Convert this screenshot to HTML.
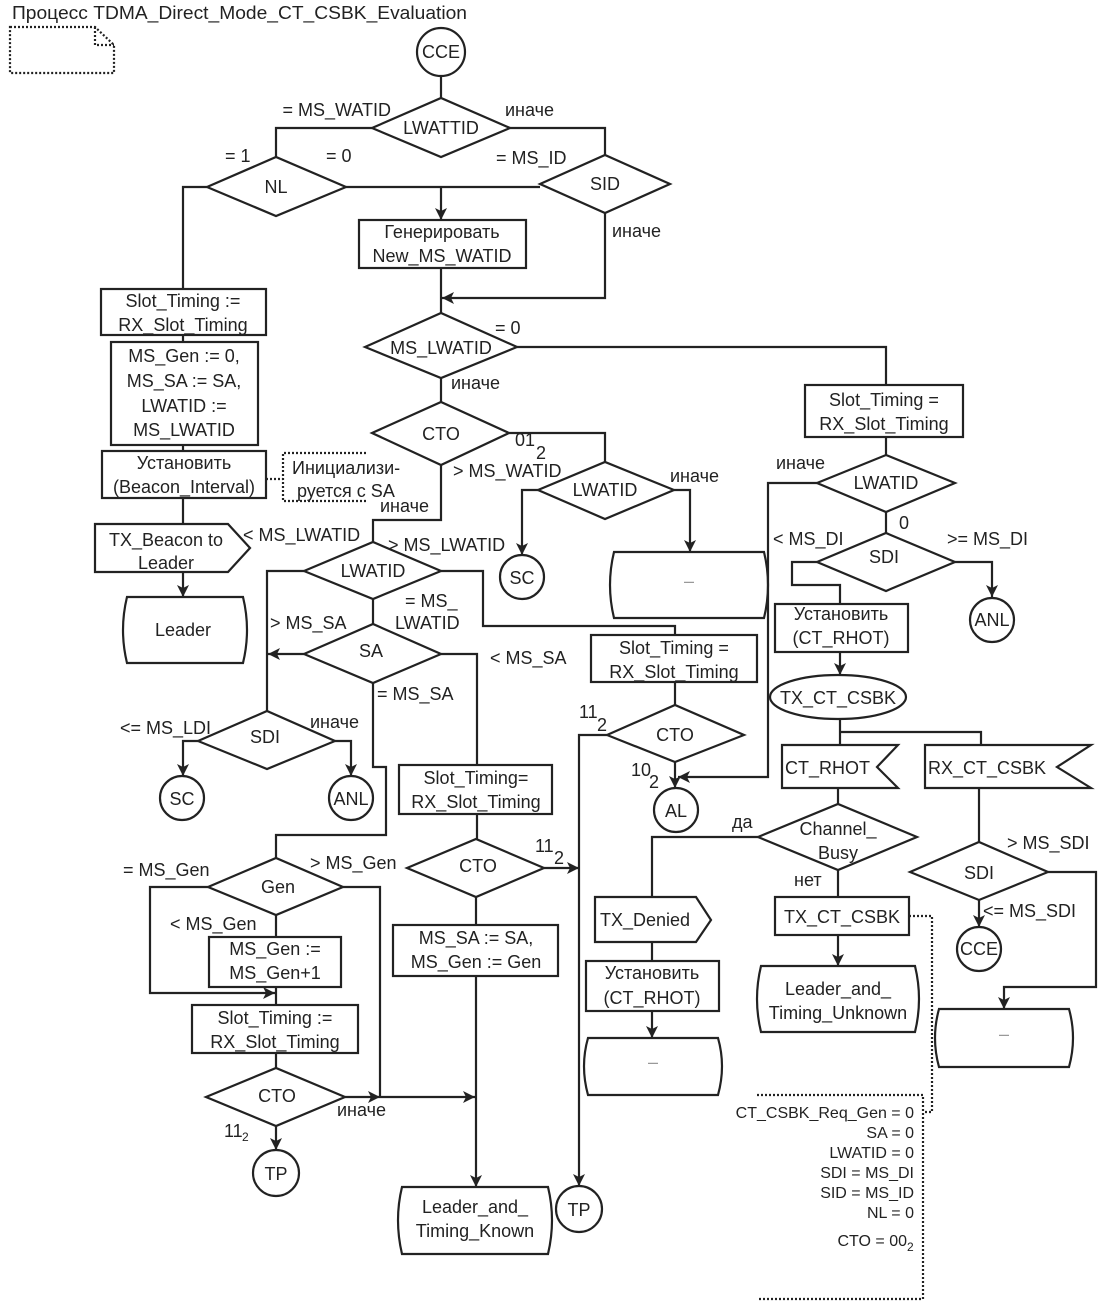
<!DOCTYPE html>
<html><head><meta charset="utf-8"><style>
html,body{margin:0;padding:0;background:#fff;}
svg{display:block;}
text{font-family:"Liberation Sans","DejaVu Sans",sans-serif;font-size:18px;fill:#222;}
.c{text-anchor:middle;}
.e{text-anchor:end;}
.s{font-size:16px;}
.sub{font-size:12px;}
</style></head><body>
<svg width="1102" height="1308" viewBox="0 0 1102 1308" xmlns="http://www.w3.org/2000/svg">
<defs><marker id="a" viewBox="0 0 12 12" refX="12" refY="6" markerWidth="12" markerHeight="12" markerUnits="userSpaceOnUse" orient="auto"><path d="M0,0 L12,6 L0,12 L3,6 z" fill="#222"/></marker></defs>
<g fill="none" stroke="#222" stroke-width="2.2">
<path d="M10,27 H95 L114,45 V73 H10 Z M95,27 V45 H114" stroke-dasharray="2,2"/>
<circle cx="441" cy="52" r="24"/>
<line x1="441" y1="76" x2="441" y2="98"/>
<polygon points="372,128 441,98 510,128 441,157"/>
<path d="M372,128 H276 V157"/>
<polygon points="207,187 276,157 346,187 276,216"/>
<path d="M510,128 H605 V155"/>
<polygon points="540,184 605,155 670,184 605,213"/>
<path d="M346,187 H540"/>
<path d="M441,187 V220" marker-end="url(#a)"/>
<rect x="359" y="220" width="167" height="48"/>
<line x1="441" y1="268" x2="441" y2="313"/>
<path d="M605,213 V298 H442" marker-end="url(#a)"/>
<polygon points="365,347 441,313 517,347 441,378"/>
<path d="M517,347 H886 V385"/>
<rect x="805" y="385" width="158" height="52"/>
<line x1="886" y1="437" x2="886" y2="455"/>
<polygon points="817,483 886,455 955,483 886,512"/>
<path d="M817,483 H768 V777 H678" marker-end="url(#a)"/>
<line x1="886" y1="512" x2="886" y2="533"/>
<polygon points="817,562 886,533 955,562 886,591"/>
<path d="M955,562 H992 V597" marker-end="url(#a)"/>
<circle cx="992" cy="620" r="22"/>
<path d="M817,562 H792 V585 H840 V604"/>
<rect x="775" y="604" width="133" height="48"/>
<path d="M840,652 V675" marker-end="url(#a)"/>
<ellipse cx="838" cy="697" rx="68" ry="22"/>
<path d="M840,719 V745 M840,732 H981 V745"/>
<polygon points="782,745 898,745 877,767 898,788 782,788"/>
<polygon points="925,745 1091,745 1057,767 1091,788 925,788"/>
<line x1="838" y1="788" x2="838" y2="804"/>
<polygon points="758,837 838,804 917,837 838,870"/>
<path d="M758,837 H652 V897"/>
<polygon points="595,897 696,897 711,920 696,942 595,942"/>
<line x1="652" y1="942" x2="652" y2="961"/>
<rect x="586" y="961" width="133" height="50"/>
<path d="M652,1011 V1038" marker-end="url(#a)"/>
<path d="M588,1038 H718 Q726,1066 718,1095 H588 Q580,1066 588,1038 Z"/>
<line x1="838" y1="870" x2="838" y2="897"/>
<rect x="775" y="897" width="134" height="38"/>
<path d="M838,935 V966" marker-end="url(#a)"/>
<path d="M761,966 H915 Q923,999 915,1032 H761 Q753,999 761,966 Z"/>
<path d="M909,916 H932 V1112 H923 M757,1095 H923 V1299 H757" stroke-dasharray="2,2"/>
<line x1="979" y1="788" x2="979" y2="842"/>
<polygon points="910,872 979,842 1048,872 979,900"/>
<path d="M979,900 V927" marker-end="url(#a)"/>
<circle cx="979" cy="949" r="22"/>
<path d="M1048,872 H1096 V987 H1004 V1009" marker-end="url(#a)"/>
<path d="M939,1009 H1069 Q1077,1038 1069,1067 H939 Q931,1038 939,1009 Z"/>
<line x1="441" y1="378" x2="441" y2="402"/>
<polygon points="372,433 441,402 509,433 441,465"/>
<path d="M509,433 H605 V462"/>
<polygon points="538,490 605,462 674,490 605,519"/>
<path d="M674,490 H690 V552" marker-end="url(#a)"/>
<path d="M614,552 H764 Q772,585 764,618 H614 Q606,585 614,552 Z"/>
<path d="M538,490 H522 V555" marker-end="url(#a)"/>
<circle cx="522" cy="577" r="22"/>
<path d="M441,465 V520 H373 V542"/>
<polygon points="304,571 373,542 441,571 373,599"/>
<path d="M441,571 H483 V626 H675 V635"/>
<rect x="591" y="635" width="166" height="47"/>
<line x1="675" y1="682" x2="675" y2="705"/>
<polygon points="607,735 675,705 744,735 675,762"/>
<path d="M675,762 V788" marker-end="url(#a)"/>
<circle cx="676" cy="810" r="22"/>
<path d="M607,735 H579 V1186" marker-end="url(#a)"/>
<circle cx="579" cy="1209" r="23"/>
<path d="M304,571 H267 V711"/>
<line x1="373" y1="599" x2="373" y2="624"/>
<polygon points="304,654 373,624 441,654 373,683"/>
<path d="M304,654 H268" marker-end="url(#a)"/>
<path d="M441,654 H477 V765"/>
<rect x="399" y="765" width="153" height="49"/>
<line x1="477" y1="814" x2="477" y2="839"/>
<polygon points="407,868 476,839 544,868 476,897"/>
<path d="M544,868 H579" marker-end="url(#a)"/>
<line x1="476" y1="897" x2="476" y2="925"/>
<rect x="393" y="925" width="165" height="51"/>
<path d="M476,976 V1187" marker-end="url(#a)"/>
<path d="M402,1187 H548 Q556,1220 548,1254 H402 Q394,1220 402,1187 Z"/>
<path d="M373,683 V767 H386 V835 H276 V858"/>
<polygon points="198,741 267,711 335,741 267,769"/>
<path d="M198,741 H183 V776" marker-end="url(#a)"/>
<circle cx="182" cy="798" r="22"/>
<path d="M335,741 H351 V776" marker-end="url(#a)"/>
<circle cx="351" cy="798" r="22"/>
<polygon points="208,887 276,858 343,887 276,915"/>
<path d="M343,887 H380 V1097"/>
<path d="M208,887 H150 V993 H275" marker-end="url(#a)"/>
<line x1="276" y1="915" x2="276" y2="937"/>
<rect x="209" y="937" width="132" height="50"/>
<line x1="276" y1="987" x2="276" y2="1005"/>
<rect x="192" y="1005" width="166" height="48"/>
<line x1="276" y1="1053" x2="276" y2="1068"/>
<polygon points="206,1097 276,1068 345,1097 276,1126"/>
<path d="M345,1097 H380" marker-end="url(#a)"/>
<path d="M380,1097 H475" marker-end="url(#a)"/>
<path d="M276,1126 V1150" marker-end="url(#a)"/>
<circle cx="276" cy="1173" r="23"/>
<path d="M207,187 H183 V289"/>
<rect x="101" y="289" width="165" height="46"/>
<line x1="183" y1="335" x2="183" y2="342"/>
<rect x="111" y="342" width="147" height="103"/>
<line x1="183" y1="445" x2="183" y2="451"/>
<rect x="102" y="451" width="164" height="47"/>
<path d="M266,479 H283 M366,453 H283 V501 H366" stroke-dasharray="2,2"/>
<line x1="183" y1="498" x2="183" y2="524"/>
<polygon points="95,524 228,524 250,548 228,572 95,572"/>
<path d="M183,572 V597" marker-end="url(#a)"/>
<path d="M127,597 H243 Q251,630 243,663 H127 Q119,630 127,597 Z"/>
</g>
<text x="12" y="19" textLength="455" lengthAdjust="spacingAndGlyphs">Процесс TDMA_Direct_Mode_CT_CSBK_Evaluation</text>
<text class="c" x="441" y="58">CCE</text>
<text class="c" x="441" y="134">LWATTID</text>
<text class="e" x="391" y="116">= MS_WATID</text>
<text x="505" y="116">иначе</text>
<text class="c" x="276" y="193">NL</text>
<text x="225" y="162">= 1</text>
<text x="326" y="162">= 0</text>
<text class="c" x="605" y="190">SID</text>
<text x="496" y="164">= MS_ID</text>
<text x="612" y="237">иначе</text>
<text class="c" x="442" y="238">Генерировать</text>
<text class="c" x="442" y="262">New_MS_WATID</text>
<text class="c" x="441" y="354">MS_LWATID</text>
<text x="495" y="334">= 0</text>
<text x="451" y="389">иначе</text>
<text class="c" x="884" y="406">Slot_Timing =</text>
<text class="c" x="884" y="430">RX_Slot_Timing</text>
<text class="c" x="886" y="489">LWATID</text>
<text x="776" y="469">иначе</text>
<text x="899" y="529">0</text>
<text class="c" x="884" y="563">SDI</text>
<text x="773" y="545">&lt; MS_DI</text>
<text x="947" y="545">&gt;= MS_DI</text>
<text class="c" x="992" y="626">ANL</text>
<text class="c" x="841" y="620">Установить</text>
<text class="c" x="841" y="644">(CT_RHOT)</text>
<text class="c" x="838" y="704">TX_CT_CSBK</text>
<text x="785" y="774">CT_RHOT</text>
<text x="928" y="774">RX_CT_CSBK</text>
<text class="c" x="838" y="835">Channel_</text>
<text class="c" x="838" y="859">Busy</text>
<text x="732" y="828">да</text>
<text x="794" y="886">нет</text>
<text x="600" y="926">TX_Denied</text>
<text class="c" x="652" y="979">Установить</text>
<text class="c" x="652" y="1004">(CT_RHOT)</text>
<text class="c" x="653" y="1068" style="fill:#999">–</text>
<text class="c" x="842" y="923">TX_CT_CSBK</text>
<text class="c" x="838" y="995">Leader_and_</text>
<text class="c" x="838" y="1019">Timing_Unknown</text>
<text class="e s" x="914" y="1118">CT_CSBK_Req_Gen = 0</text>
<text class="e s" x="914" y="1138">SA = 0</text>
<text class="e s" x="914" y="1158">LWATID = 0</text>
<text class="e s" x="914" y="1178">SDI = MS_DI</text>
<text class="e s" x="914" y="1198">SID = MS_ID</text>
<text class="e s" x="914" y="1218">NL = 0</text>
<text class="e s" x="907" y="1246">CTO = 00</text>
<text class="sub" x="907" y="1251">2</text>
<text class="c" x="979" y="879">SDI</text>
<text x="1007" y="849">&gt; MS_SDI</text>
<text x="983" y="917">&lt;= MS_SDI</text>
<text class="c" x="979" y="955">CCE</text>
<text class="c" x="1004" y="1040" style="fill:#999">–</text>
<text class="c" x="441" y="440">CTO</text>
<text x="515" y="446">01</text><text x="536" y="459">2</text>
<text class="c" x="605" y="496">LWATID</text>
<text x="670" y="482">иначе</text>
<text x="453" y="477">&gt; MS_WATID</text>
<text class="c" x="689" y="587" style="fill:#999">–</text>
<text class="c" x="522" y="584">SC</text>
<text x="380" y="512">иначе</text>
<text class="c" x="373" y="577">LWATID</text>
<text x="243" y="541">&lt; MS_LWATID</text>
<text x="388" y="551">&gt; MS_LWATID</text>
<text class="c" x="674" y="654">Slot_Timing =</text>
<text class="c" x="674" y="678">RX_Slot_Timing</text>
<text class="c" x="675" y="741">CTO</text>
<text x="579" y="718">11</text><text x="597" y="731">2</text>
<text x="631" y="776">10</text><text x="649" y="788">2</text>
<text class="c" x="676" y="817">AL</text>
<text class="c" x="579" y="1216">TP</text>
<text class="c" x="371" y="657">SA</text>
<text x="405" y="607">= MS_</text>
<text x="395" y="629">LWATID</text>
<text x="270" y="629">&gt; MS_SA</text>
<text x="490" y="664">&lt; MS_SA</text>
<text x="377" y="700">= MS_SA</text>
<text class="c" x="476" y="784">Slot_Timing=</text>
<text class="c" x="476" y="808">RX_Slot_Timing</text>
<text class="c" x="478" y="872">CTO</text>
<text x="535" y="852">11</text><text x="554" y="864">2</text>
<text class="c" x="476" y="944">MS_SA := SA,</text>
<text class="c" x="476" y="968">MS_Gen := Gen</text>
<text class="c" x="475" y="1213">Leader_and_</text>
<text class="c" x="475" y="1237">Timing_Known</text>
<text class="c" x="265" y="743">SDI</text>
<text x="120" y="734">&lt;= MS_LDI</text>
<text x="310" y="728">иначе</text>
<text class="c" x="182" y="805">SC</text>
<text class="c" x="351" y="805">ANL</text>
<text class="c" x="278" y="893">Gen</text>
<text x="123" y="876">= MS_Gen</text>
<text x="310" y="869">&gt; MS_Gen</text>
<text x="170" y="930">&lt; MS_Gen</text>
<text class="c" x="275" y="955">MS_Gen :=</text>
<text class="c" x="275" y="979">MS_Gen+1</text>
<text class="c" x="275" y="1024">Slot_Timing :=</text>
<text class="c" x="275" y="1048">RX_Slot_Timing</text>
<text class="c" x="277" y="1102">CTO</text>
<text x="337" y="1116">иначе</text>
<text x="224" y="1137">11</text><text class="sub" x="242" y="1141">2</text>
<text class="c" x="276" y="1180">TP</text>
<text class="c" x="183" y="307">Slot_Timing :=</text>
<text class="c" x="183" y="331">RX_Slot_Timing</text>
<text class="c" x="184" y="362">MS_Gen := 0,</text>
<text class="c" x="184" y="387">MS_SA := SA,</text>
<text class="c" x="184" y="412">LWATID :=</text>
<text class="c" x="184" y="436">MS_LWATID</text>
<text class="c" x="184" y="469">Установить</text>
<text class="c" x="184" y="493">(Beacon_Interval)</text>
<text x="292" y="474">Инициализи-</text>
<text x="297" y="497">руется с SA</text>
<text class="c" x="166" y="546">TX_Beacon to</text>
<text class="c" x="166" y="569">Leader</text>
<text class="c" x="183" y="636">Leader</text>
</svg>
</body></html>
